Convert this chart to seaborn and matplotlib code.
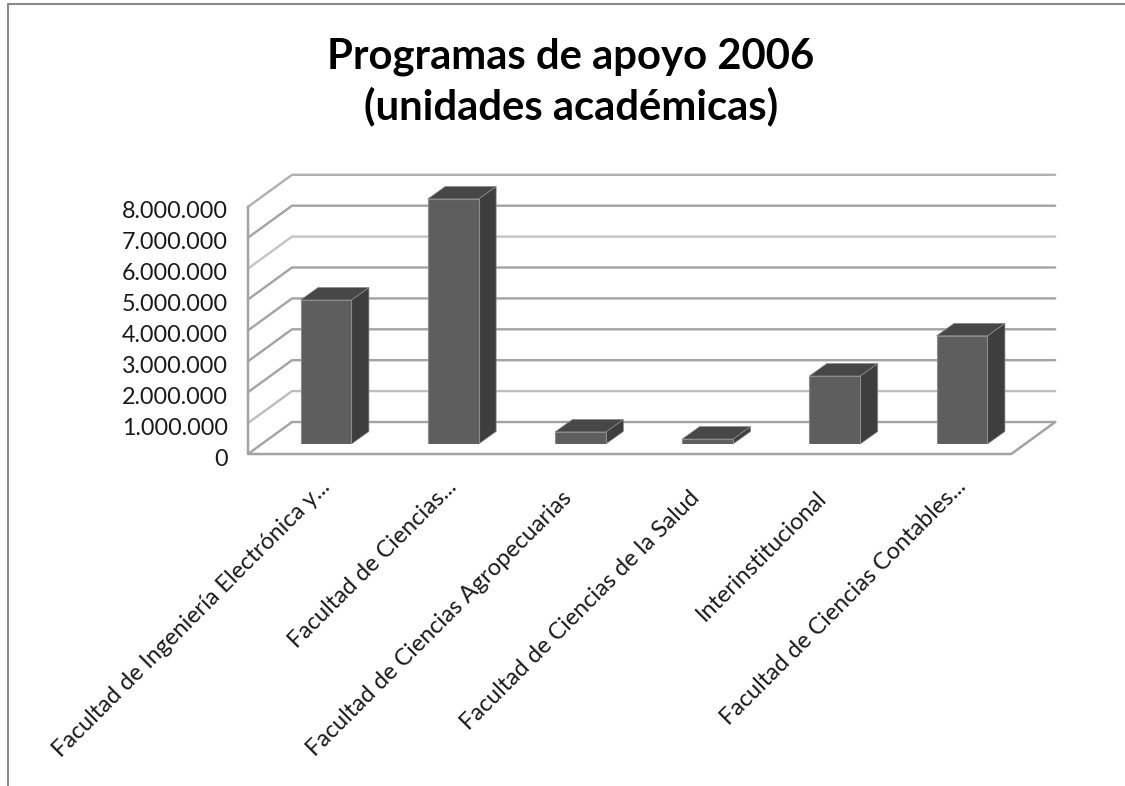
import numpy as np
import pandas as pd
import matplotlib
matplotlib.use("Agg")
import matplotlib.pyplot as plt
import seaborn as sns
from matplotlib.lines import Line2D
from matplotlib.patches import Polygon
from matplotlib.transforms import Affine2D, IdentityTransform

categories = [
    "Facultad de Ingeniería Electrónica y...",
    "Facultad de Ciencias...",
    "Facultad de Ciencias Agropecuarias",
    "Facultad de Ciencias de la Salud",
    "Interinstitucional",
    "Facultad de Ciencias Contables...",
]
values = [4660000, 7930000, 390000, 160000, 2200000, 3500000]
y_ticks = [0, 1000000, 2000000, 3000000, 4000000, 5000000, 6000000, 7000000, 8000000]
y_labels = ["0", "1.000.000", "2.000.000", "3.000.000", "4.000.000",
            "5.000.000", "6.000.000", "7.000.000", "8.000.000"]
grid_colors = ["#a3a3a3", "#bdbdbd", "#a3a3a3", "#a3a3a3", "#a3a3a3",
               "#a3a3a3", "#c4c4c4", "#a3a3a3", "#b0b0b0"]
title = "Programas de apoyo 2006\n(unidades académicas)"

W, H = 1125, 786

sns.set_theme(style="white")
plt.rcParams['font.family'] = ['Lato', 'DejaVu Sans']

fig = plt.figure(figsize=(W / 100, H / 100), dpi=100, facecolor="white")
# the axes sit on the plane of the front of the bars
ax = fig.add_axes([262.4 / W, (H - 444) / H, 763.2 / W, 247.2 / H])
ax.patch.set_alpha(0)

df = pd.DataFrame({"unidad": categories, "monto": values})
sns.barplot(data=df, x="unidad", y="monto", color="#5e5e5e", saturation=1,
            width=0.4, edgecolor="#8c8c8c", linewidth=0.8, zorder=3, ax=ax)
ax.set_xlim(-0.5, 5.5)
ax.set_ylim(0, 8000000)
ax.set_xlabel("")
ax.set_ylabel("")
sns.despine(ax=ax, left=True, bottom=True, top=True, right=True)

# pixel offsets of the pseudo 3D box, relative to the bar plane
front = np.array([-14.4, -10.0])
back = np.array([29.6, 22.0])
bar_depth = np.array([17.5, 12.5])

def to_px(x, y):
    return ax.transData.transform((x, y))

for v, c in zip(y_ticks, grid_colors):
    p0 = to_px(-0.5, v) + front
    p1 = to_px(-0.5, v) + back
    p2 = to_px(5.5, v) + back
    ax.add_artist(Line2D([p0[0], p1[0], p2[0]], [p0[1], p1[1], p2[1]], color=c, lw=1.7,
                         transform=IdentityTransform(), clip_on=False, zorder=1))

# left edge of the wall and the floor
a = to_px(-0.5, 0) + front
b = to_px(-0.5, 8000000) + front
c = to_px(5.5, 0) + front
d = to_px(5.5, 0) + back
ax.add_artist(Line2D([b[0], a[0], c[0], d[0]], [b[1], a[1], c[1], d[1]], color="#a3a3a3", lw=1.8,
                     transform=IdentityTransform(), clip_on=False, zorder=1))

# side and top face of every bar, taken from the bars seaborn drew
for bar in ax.patches[:len(values)]:
    x0, x1 = bar.get_x(), bar.get_x() + bar.get_width()
    top = bar.get_height()
    p_bl, p_tl, p_br, p_tr = to_px(x0, 0), to_px(x0, top), to_px(x1, 0), to_px(x1, top)
    side = [p_br, p_tr, p_tr + bar_depth, p_br + bar_depth]
    lid = [p_tl, p_tr, p_tr + bar_depth, p_tl + bar_depth]
    ax.add_artist(Polygon(side, closed=True, facecolor="#3e3e3e", edgecolor="#8c8c8c", lw=0.5,
                          transform=IdentityTransform(), clip_on=False, zorder=2.5))
    ax.add_artist(Polygon(lid, closed=True, facecolor="#474747", edgecolor="#8c8c8c", lw=0.5,
                          transform=IdentityTransform(), clip_on=False, zorder=2.5))

# ticks
ax.set_yticks(y_ticks)
ax.set_yticklabels(y_labels)
ax.set_xticks(range(len(categories)))
ax.set_xticklabels(categories)
ax.tick_params(axis="y", length=0, pad=25, labelsize=16.8, labelcolor="#1a1a1a")
ax.tick_params(axis="x", length=0, pad=8, labelsize=16.9, labelcolor="#1a1a1a")
for lab in ax.get_yticklabels():
    lab.set_transform(lab.get_transform() + Affine2D().translate(0, -13))
for lab in ax.get_xticklabels():
    lab.set_rotation(45)
    lab.set_ha("right")
    lab.set_rotation_mode("anchor")
    # truncated labels reach further up than the complete ones
    if lab.get_text().endswith("..."):
        lab.set_transform(lab.get_transform() + Affine2D().translate(-7, -21))
    else:
        lab.set_transform(lab.get_transform() + Affine2D().translate(-19, -32))

fig.text(571 / W, 1 - 82 / H, title, ha="center", va="center", fontsize=30.2, fontweight="bold",
         color="black", linespacing=1.3)

# outer frame, only top and left survive in the picture
fig.add_artist(Line2D([8 / W, 8 / W, 1], [0, 1 - 4 / H, 1 - 4 / H], color="#8a8a8a", lw=1.5))

fig.savefig("out.png", dpi=100)
